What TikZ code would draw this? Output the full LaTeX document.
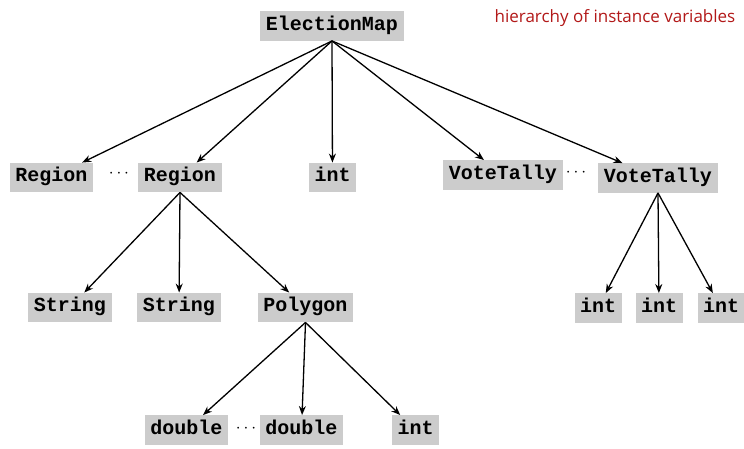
\documentclass[tikz,border=0pt]{standalone}
\usepackage{fontspec}
\setmonofont{Liberation Mono}
\newfontfamily\titlefont{Open Sans}
\usetikzlibrary{arrows.meta}
\definecolor{boxgray}{RGB}{204,204,204}
\definecolor{titlered}{RGB}{178,24,24}
\tikzset{
  tbox/.style={fill=boxgray, font=\fontsize{20}{21}\selectfont\ttfamily\bfseries,
    inner xsep=5.5pt, inner ysep=7pt, text height=12pt, text depth=3.5pt},
  conn/.style={line width=1.3pt, -{Stealth[length=9pt,width=7pt]}},
  dotsnode/.style={inner sep=0pt, font=\LARGE}
}
\begin{document}
\begin{tikzpicture}[x=1pt,y=-1pt]
\useasboundingbox (0,0) rectangle (744,448);
\node[font=\titlefont\fontsize{17}{18}\selectfont, text=titlered] (title) at (615,18) {hierarchy of instance variables};

\node[tbox] (em) at (332,26) {ElectionMap};

\node[tbox] (r1) at (51.5,177.5) {Region};
\node[tbox] (r2) at (180,177.5) {Region};
\node[tbox] (i0) at (332.5,177.5) {int};
\node[tbox] (v1) at (503,175) {VoteTally};
\node[tbox] (v2) at (658,178) {VoteTally};

\node[dotsnode] (dA) at (119,174) {$\cdots$};
\node[dotsnode] (dB) at (576,173) {$\cdots$};

\node[tbox] (s1) at (70,307.5) {String};
\node[tbox] (s2) at (179,307.5) {String};
\node[tbox] (p) at (305.5,307.5) {Polygon};

\node[tbox] (i1) at (598,308) {int};
\node[tbox] (i2) at (659,308) {int};
\node[tbox] (i3) at (721,308) {int};

\node[tbox] (d1) at (186.5,430) {double};
\node[tbox] (d2) at (301.5,430) {double};
\node[tbox] (i4) at (415.5,430) {int};
\node[dotsnode] (dC) at (246,429) {$\cdots$};

\foreach \c in {r1,r2,i0,v1,v2} \draw[conn] (em.south) -- (\c);
\foreach \c in {s1,s2,p} \draw[conn] (r2.south) -- (\c);
\foreach \c in {d1,d2,i4} \draw[conn] (p.south) -- (\c);
\foreach \c in {i1,i2,i3} \draw[conn] (v2.south) -- (\c);
\end{tikzpicture}
\end{document}
